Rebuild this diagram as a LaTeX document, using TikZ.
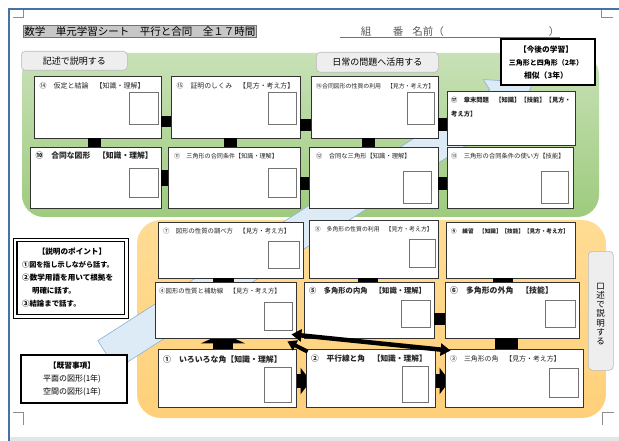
\documentclass[tikz,border=0pt]{standalone}
\usepackage{fontspec}
\setmainfont{Noto Sans CJK JP}
\usetikzlibrary{fit,arrows.meta,calc}
\definecolor{grnT}{RGB}{200,225,182}
\definecolor{grnB}{RGB}{158,203,126}
\definecolor{orgT}{RGB}{255,220,148}
\definecolor{orgB}{RGB}{255,208,122}
\definecolor{arrF}{RGB}{221,235,247}
\definecolor{arrD}{RGB}{140,174,214}
\definecolor{frameblue}{RGB}{70,114,170}
\definecolor{tabF}{RGB}{238,238,238}
\definecolor{tabD}{RGB}{185,185,185}
\newcommand{\fs}[1]{\fontsize{#1}{#1}\selectfont}
\newcommand{\mkbox}[5]{\node[box, fit={(#2,#3) (#4,#5)}] (#1) {};}
\newcommand{\mksq}[5]{\node[sq, fit={(#2,#3) (#4,#5)}] (#1) {};}
\tikzset{
  box/.style={draw=black!80, line width=0.8pt, fill=white, inner sep=0pt},
  sq/.style={draw=black!55, line width=0.9pt, fill=white, inner sep=0pt},
  cline/.style={draw=black, line cap=butt},
  ttl/.style={anchor=west, inner sep=0pt, text=black!85},
  tabbox/.style={draw=tabD, fill=tabF, rounded corners=4pt, line width=0.6pt},
  bigtip/.style={-{Triangle[width=#1,length=9pt]}},
  crop/.style={draw=black!45, line width=0.5pt},
  note/.style={inner sep=0pt, text=black},
}
\begin{document}
\begin{tikzpicture}[x=1pt,y=-1pt]
\useasboundingbox (0,0) rectangle (619,441);
\fill[white] (0,0) rectangle (619,441);
% page frame
\fill[black!10] (10,436.5) rectangle (619,441);
\draw[frameblue, line width=2pt] (9,441) -- (9,9) -- (619,9);
\draw[crop] (13,17) -- (23,17) -- (23,10);
\draw[crop] (601.7,10) -- (601.7,17) -- (613,17);
\draw[crop] (13,412) -- (23,412) -- (23,425);
\draw[crop] (614,412) -- (602,412) -- (602,425);
% regions
\shade[top color=grnT, bottom color=grnB, rounded corners=22pt] (22,53) rectangle (599,217);
\shade[top color=orgT, bottom color=orgB, rounded corners=24pt] (137,220) rectangle (606,418);
% big light-blue arrow
\draw[fill=arrF, draw=arrD, line width=0.6pt] (97.8,340.7) -- (489.8,89.7) -- (483.4,79.6) -- (532.7,82.4) -- (514.6,128.4) -- (508.2,118.3) -- (116.2,369.3) -- cycle;
% tabs
\node[tabbox, minimum width=106pt, minimum height=19pt, anchor=north west, font=\fs{9}] (tabA) at (21,51) {記述で説明する};
\node[tabbox, minimum width=122pt, minimum height=20pt, anchor=north west, font=\fs{9}] (tabB) at (316,52) {日常の問題へ活用する};
% boxes (green)
\mkbox{b14}{34}{76}{161}{138}
\mkbox{b15}{171}{76}{300}{138}
\mkbox{b16}{311}{76}{438}{138}
\mkbox{b17}{447}{91}{575}{145}
\mkbox{b10}{30}{147}{161}{208}
\mkbox{b11}{168}{147}{300}{208}
\mkbox{b12}{309}{147}{438}{208}
\mkbox{b13}{447}{147}{573}{208}
% boxes (orange)
\mkbox{b7}{158}{222}{303}{278}
\mkbox{b8}{309}{220}{438}{278}
\mkbox{b9}{446}{222}{575}{278}
\mkbox{b4}{155}{282}{296}{338}
\mkbox{b5}{304}{282}{434}{338}
\mkbox{b6}{445}{282}{579}{338}
\mkbox{b1}{158}{349}{296}{407}
\mkbox{b2}{306}{349}{435}{407}
\mkbox{b3}{445}{349}{583}{407}
% connectors (green)
\path (b14.east) ++(0,14.5) coordinate (h1);
\draw[cline, line width=11pt] (h1) -- (h1 -| b15.west);
\path (b15.east) ++(0,18) coordinate (h2);
\draw[cline, line width=12pt] (h2) -- (h2 -| b16.west);
\path (b16.east) ++(0,18) coordinate (h3);
\draw[cline, line width=13pt] (h3) -- (h3 -| b17.west);
\path (b10.east) ++(0,1) coordinate (h4);
\draw[cline, line width=16pt] (h4) -- (h4 -| b11.west);
\path (b11.east) ++(0,6) coordinate (h5);
\draw[cline, line width=13pt] (h5) -- (h5 -| b12.west);
\path (b12.east) ++(0,6) coordinate (h6);
\draw[cline, line width=13pt] (h6) -- (h6 -| b13.west);
\path (b14.south) ++(-3,0) coordinate (v1);
\draw[cline, line width=13pt] (v1) -- (v1 |- b10.north);
\path (b15.south) ++(-5,0) coordinate (v2);
\draw[cline, line width=13pt] (v2) -- (v2 |- b11.north);
\path (b16.south) ++(-6.5,0) coordinate (v3);
\draw[cline, line width=13pt] (v3) -- (v3 |- b12.north);
% connectors (orange)
\path (b7.south) ++(-7,0) coordinate (v4);
\draw[cline, line width=21pt] (v4) -- (v4 |- b4.north);
\path (b8.south) ++(-5.5,0) coordinate (v5);
\draw[cline, line width=20pt] (v5) -- (v5 |- b5.north);
\path (b9.south) ++(-7.5,0) coordinate (v6);
\draw[cline, line width=20pt] (v6) -- (v6 |- b6.north);
\path (b5.east) ++(0,9) coordinate (h7);
\draw[cline, line width=12pt] (h7) -- (h7 -| b6.west);
\path (b6.south) ++(-5.5,0) coordinate (v7);
\draw[cline, line width=23pt] (v7) -- (v7 |- b3.north);
\path (b1.north) ++(-4,6) coordinate (a1);
\draw[cline, line width=20pt, -{Triangle[width=44pt,length=10pt]}] (a1) -- ($(a1 |- b4.south)+(0,-5)$);
\path (b1.east) ++(-6,3) coordinate (a2);
\draw[cline, line width=14pt, -{Triangle[width=26pt,length=10pt]}] (a2) -- ($(a2 -| b2.west)+(5,0)$);
\path (b2.east) ++(-6,3) coordinate (a3);
\draw[cline, line width=14pt, -{Triangle[width=26pt,length=10pt]}] (a3) -- ($(a3 -| b3.west)+(5,0)$);
% redraw boxes on top of connector starts
\mkbox{b1}{158}{349}{296}{407}
\mkbox{b2}{306}{349}{435}{407}
\mkbox{b3}{445}{349}{583}{407}
\mkbox{b4}{155}{282}{296}{338}
% answer squares
\mksq{s14}{129.5}{92}{158}{124}
\mksq{s15}{268}{92}{296}{124}
\mksq{s16}{407}{92}{434}{124}
\mksq{s10}{129.5}{168}{158}{197}
\mksq{s11}{268}{168}{296}{197}
\mksq{s12}{403}{171}{431.5}{203}
\mksq{s13}{541}{171}{568.5}{203}
\mksq{s7}{268}{241}{299}{268}
\mksq{s8}{409}{239}{435}{267}
\mksq{s4}{264.5}{302}{292}{330}
\mksq{s5}{401.5}{300}{430}{327}
\mksq{s6}{545.5}{300}{575}{327}
\mksq{s1}{264.5}{367}{291}{402}
\mksq{s2}{402.5}{366}{428}{402}
\mksq{s3}{549}{368}{578}{397}
% titles
\node[ttl, font=\fs{7}] (t14) at (39.5,86) {⑭　仮定と結論　【知識・理解】};
\node[ttl, font=\fs{6.9}] (t15) at (176.5,86) {⑮　証明のしくみ　【見方・考え方】};
\node[ttl, font=\fs{5.9}] (t16) at (316,86) {⑯合同図形の性質の利用　【見方・考え方】};
\node[ttl, font=\fs{6.3}\bfseries] (t17a) at (451,100) {⑰　章末問題　【知識】【技能】【見方・};
\node[ttl, font=\fs{6.3}\bfseries] (t17b) at (451,114) {考え方】};
\node[ttl, font=\fs{7.8}\bfseries] (t10) at (35.5,156) {⑩　合同な図形　【知識・理解】};
\node[ttl, font=\fs{6.1}] (t11) at (174,156) {⑪　三角形の合同条件【知識・理解】};
\node[ttl, font=\fs{6.3}] (t12) at (316,156) {⑫　合同な三角形【知識・理解】};
\node[ttl, font=\fs{6.3}] (t13) at (451,156) {⑬　三角形の合同条件の使い方【技能】};
\node[ttl, font=\fs{6.35}] (t7) at (163,231) {⑦　図形の性質の調べ方　【見方・考え方】};
\node[ttl, font=\fs{5.9}] (t8) at (314.6,229) {⑧　多角形の性質の利用　【見方・考え方】};
\node[ttl, font=\fs{5.6}\bfseries] (t9) at (451,231) {⑨　練習　【知識】【技能】【見方・考え方】};
\node[ttl, font=\fs{6.4}] (t4) at (159,291) {④図形の性質と補助線　【見方・考え方】};
\node[ttl, font=\fs{7.3}\bfseries] (t5) at (309,291) {⑤　多角形の内角　【知識・理解】};
\node[ttl, font=\fs{7.9}\bfseries] (t6) at (450,291) {⑥　多角形の外角　【技能】};
\node[ttl, font=\fs{7.9}\bfseries] (t1) at (163,359) {①　いろいろな角【知識・理解】};
\node[ttl, font=\fs{7.7}\bfseries] (t2) at (311,359) {②　平行線と角　【知識・理解】};
\node[ttl, font=\fs{6.9}] (t3) at (450,359) {③　三角形の角　【見方・考え方】};
% diagonal arrows near box 4
\path (b3.north west) ++(6,2) coordinate (d1);
\path (b4.south east) ++(-5,-4) coordinate (d2);
\draw[line width=4.5pt, {Triangle[width=12pt,length=10pt]}-{Triangle[width=12pt,length=10pt]}] (d1) -- (d2);
\path (b2.north west) ++(2,3) coordinate (d3);
\path (b4.south east) ++(-9,3) coordinate (d4);
\draw[line width=4pt, -{Triangle[width=11pt,length=9pt]}] (d3) -- (d4);
% left note boxes
\draw[black, line width=0.7pt, fill=white] (13,238) rectangle (128,318);
\draw[black, line width=1.8pt] (17,241.5) rectangle (124.5,314.5);
\node[note, font=\fs{7.6}\bfseries] (p0) at (72,252) {【説明のポイント】};
\node[note, anchor=west, font=\fs{7.1}\bfseries] (p1) at (22,265) {①図を指し示しながら話す。};
\node[note, anchor=west, font=\fs{7.6}\bfseries] (p2) at (22,278) {②数学用語を用いて根拠を};
\node[note, anchor=west, font=\fs{7.4}\bfseries] (p3) at (32,291) {明確に話す。};
\node[note, anchor=west, font=\fs{7.4}\bfseries] (p4) at (22,304) {③結論まで話す。};
\node[draw=black, line width=1.8pt, fill=white, minimum width=106pt, minimum height=48pt, anchor=north west] (kishu) at (20,354) {};
\node[note, font=\fs{7.7}\bfseries] (k0) at (72,366) {【既習事項】};
\node[note, font=\fs{8}] (k1) at (72,379) {平面の図形(1年)};
\node[note, font=\fs{8}] (k2) at (72,392) {空間の図形(1年)};
% future box
\node[draw=black, line width=1.8pt, fill=white, minimum width=94pt, minimum height=46pt, anchor=north west] (kongo) at (500,38) {};
\node[note, font=\fs{7.7}\bfseries] (f0) at (546,50) {【今後の学習】};
\node[note, font=\fs{7}\bfseries] (f1) at (546,63) {三角形と四角形（2年）};
\node[note, font=\fs{7.8}\bfseries] (f2) at (546,75.5) {相似（3年）};
% oral tab
\node[tabbox, minimum width=25pt, minimum height=119pt, anchor=north west] (tabC) at (588,251) {};
\node[note, align=center, font=\fontsize{8.5}{9.3}\selectfont] (tabCt) at (600.5,314) {口\\述\\で\\説\\明\\す\\る};
% header
\node[fill=black!22, draw=black!55, line width=0.5pt, inner sep=1pt, anchor=west, font=\fs{10.5}] (title) at (23,31.5) {数学　単元学習シート　平行と合同　全１７時間};
\draw[black!55, line width=0.6pt] (340,37.5) -- (560,37.5);
\node[note, text=black!65, font=\fs{10.5}] (n1) at (366,31.5) {組};
\node[note, text=black!65, font=\fs{10.5}] (n2) at (398,31.5) {番};
\node[note, text=black!65, font=\fs{10.5}] (n3) at (428,31.5) {名前（};
\node[note, text=black!65, font=\fs{10.5}] (n4) at (554,31.5) {）};
\end{tikzpicture}
\end{document}
